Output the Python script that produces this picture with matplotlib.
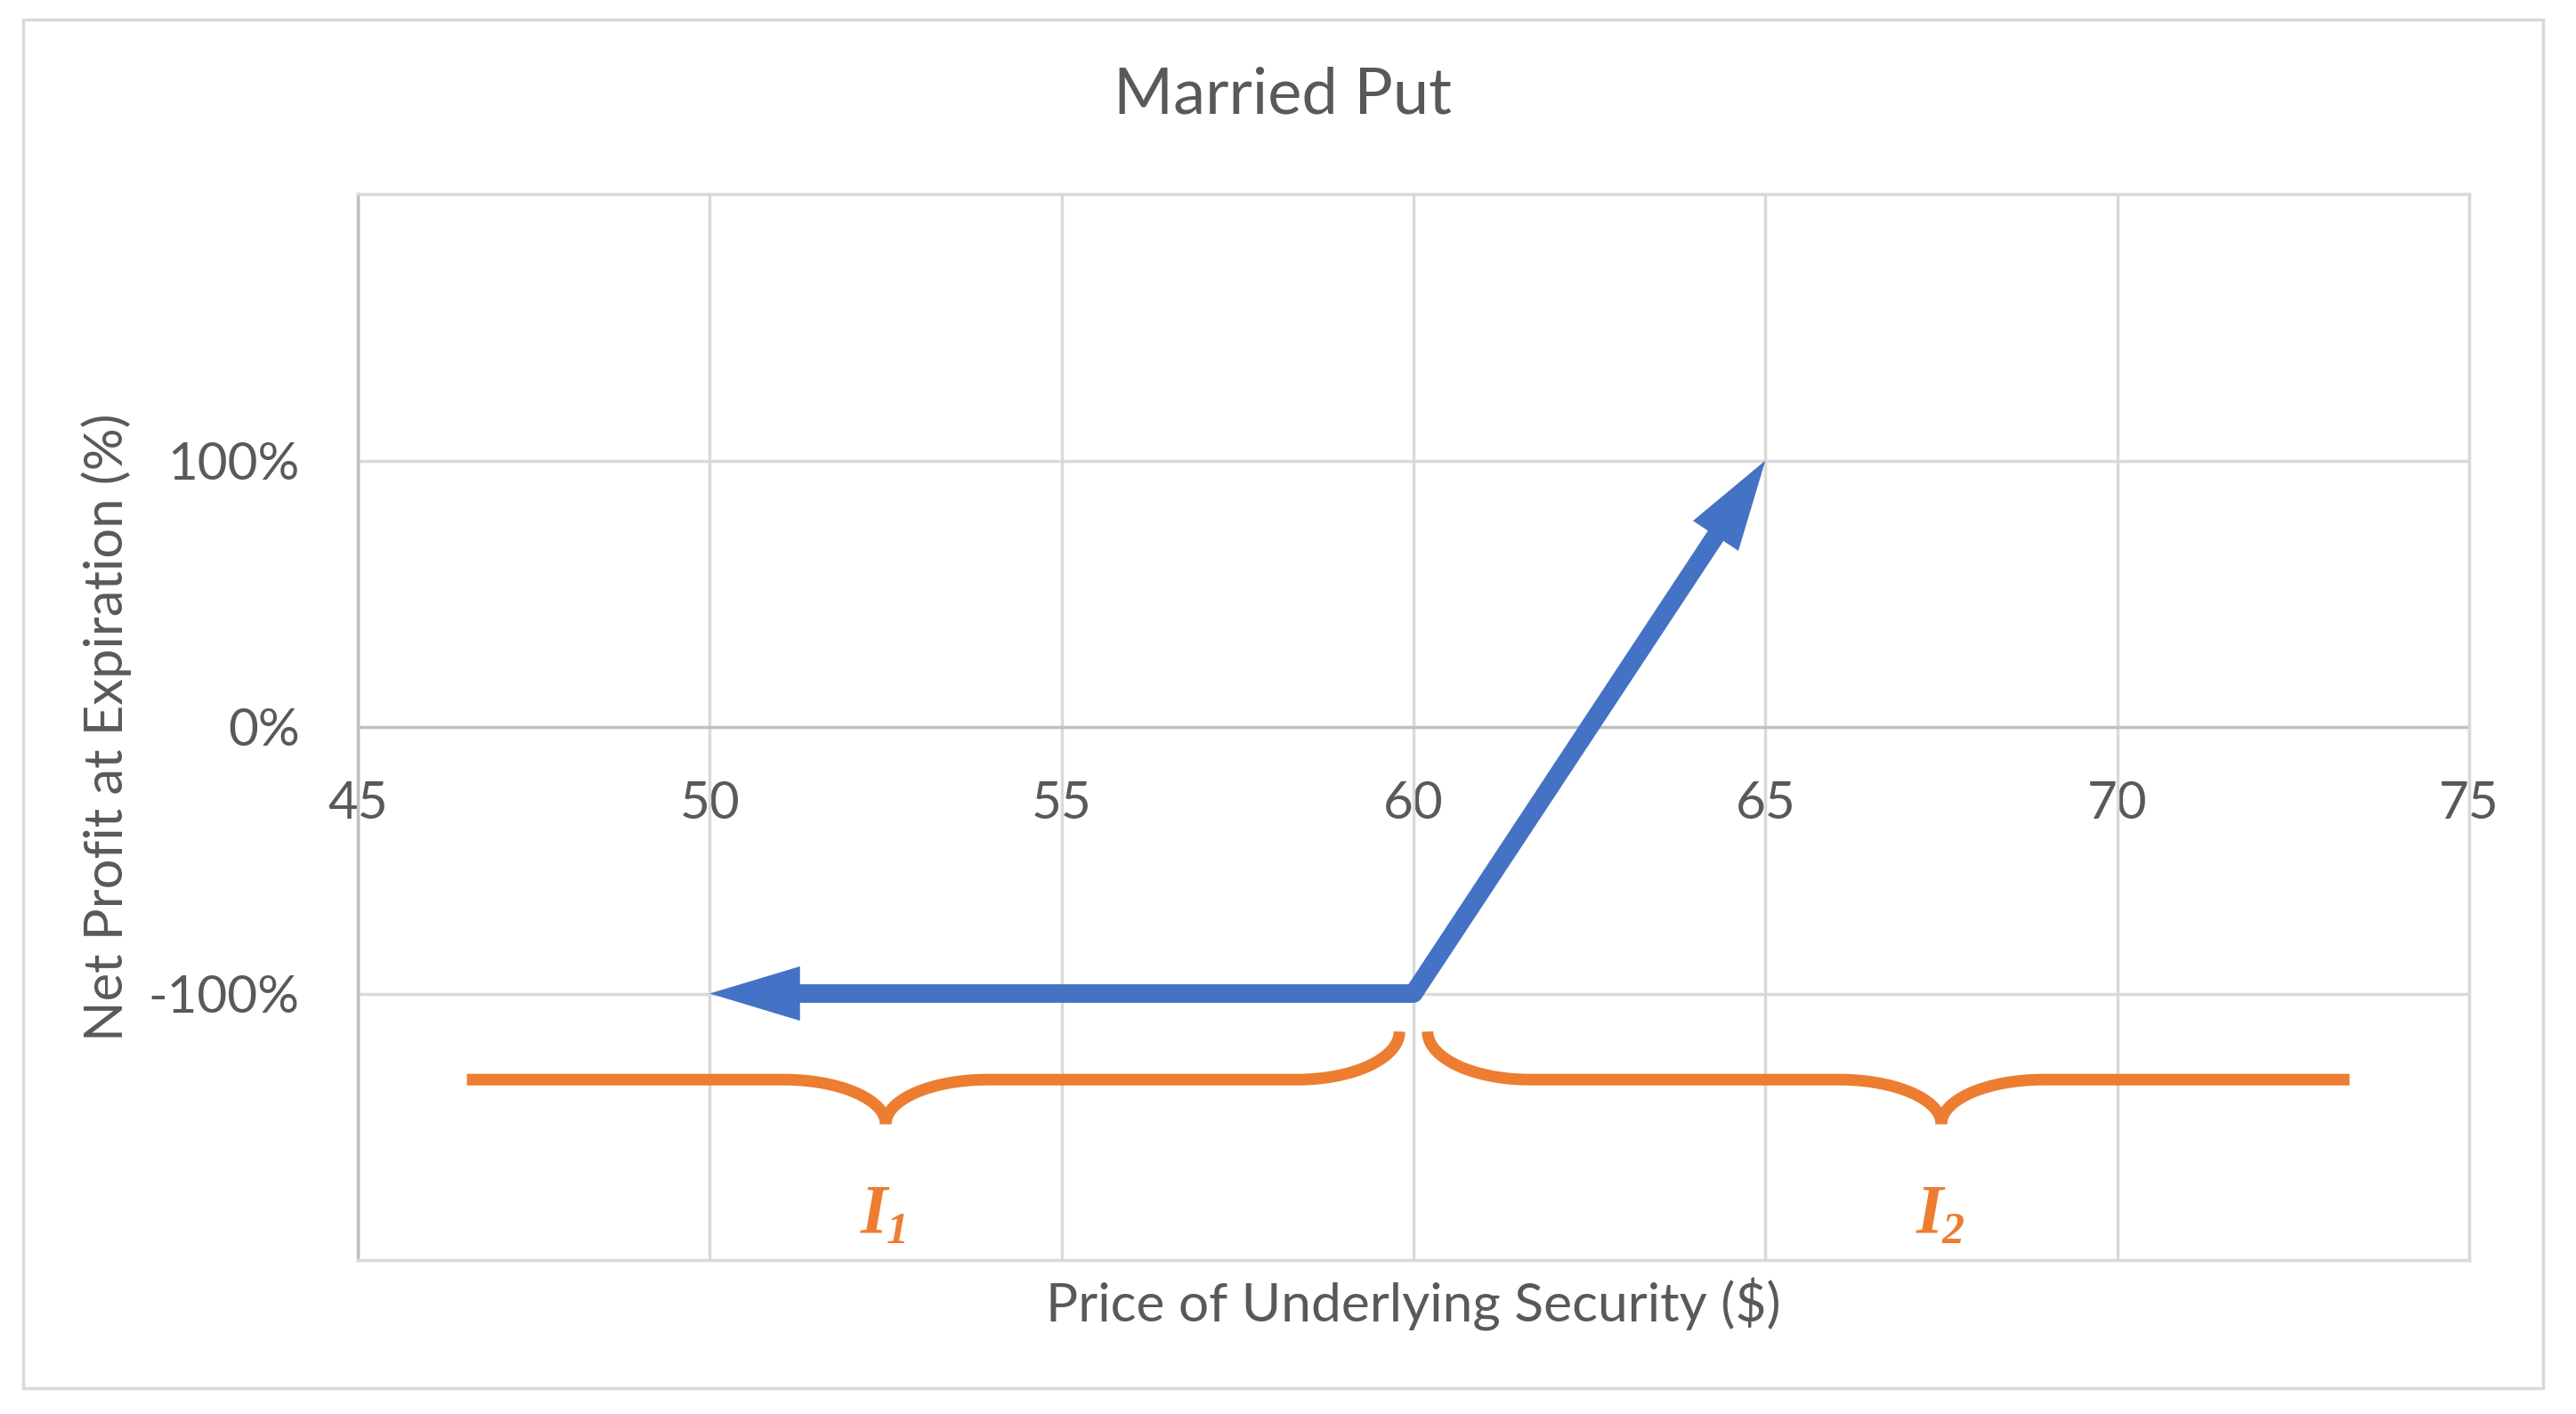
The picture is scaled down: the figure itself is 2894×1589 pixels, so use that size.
import matplotlib
matplotlib.use('Agg')
import matplotlib.pyplot as plt
import numpy as np
from matplotlib.patches import Rectangle

# ---------------- data ----------------
title = "Married Put"
x_label = "Price of Underlying Security ($)"
y_label = "Net Profit at Expiration (%)"
x_ticks = [45, 50, 55, 60, 65, 70, 75]
x_tick_labels = ["45", "50", "55", "60", "65", "70", "75"]
y_ticks = [-1.0, 0.0, 1.0]
y_tick_labels = ["-100%", "0%", "100%"]
x_range = [45, 75]
y_range = [-2.0, 2.0]

price = [50, 60, 65]
profit = [-1.0, -1.0, 1.0]

brace_outer = [46.55, 73.3]
brace_inner = [59.8, 60.2]
brace_tip = [52.5, 67.5]
brace_level = -1.323
brace_label_main = ["I", "I"]
brace_label_sub = ["1", "2"]
brace_label_level = -1.895

# ---------------- style ----------------
BLUE = '#4472C4'
ORANGE = '#ED7D31'
TEXT = '#595959'
GRID = '#D9D9D9'
AXIS = '#BFBFBF'

plt.rcParams['font.family'] = ['Lato', 'DejaVu Sans']

W, H, DPI = 2894, 1589, 100
fig = plt.figure(figsize=(W / DPI, H / DPI), dpi=DPI)
fig.patch.set_facecolor('white')

# outer chart frame
fig.patches.append(Rectangle((26 / W, 1 - 1560 / H), (2857 - 26) / W, (1560 - 22) / H,
                             transform=fig.transFigure, fill=False, ec=GRID, lw=2.5))

L, R, T, B = 402, 2774, 218, 1416
ax = fig.add_axes([L / W, 1 - B / H, (R - L) / W, (B - T) / H])
ax.set_xlim(*x_range)
ax.set_ylim(*y_range)
ax.set_axisbelow(True)

for s in ['top', 'right', 'bottom']:
    ax.spines[s].set_color(GRID)
    ax.spines[s].set_linewidth(2.5)
ax.spines['left'].set_color(AXIS)
ax.spines['left'].set_linewidth(2.5)

ax.set_xticks(x_ticks)
ax.set_xticklabels([])
ax.tick_params(axis='x', length=0)
ax.set_yticks(y_ticks, y_tick_labels)
ax.tick_params(axis='y', length=0, pad=47, labelsize=42, labelcolor=TEXT)
ax.grid(True, color=GRID, lw=2.5)
ax.get_ygridlines()[1].set_color(AXIS)

# x tick labels along y = 0
sec = ax.secondary_xaxis(0.5)
sec.set_alignment('bottom')
for s in sec.spines.values():
    s.set_visible(False)
sec.set_xticks(x_ticks, x_tick_labels)
sec.tick_params(axis='x', length=0, pad=43, labelsize=42, labelcolor=TEXT)

# axis labels and title
ax.set_ylabel(y_label, fontsize=43, color=TEXT, va='center')
ax.yaxis.set_label_coords((120 - L) / (R - L), 0.5)
ax.set_xlabel(x_label, fontsize=43.5, color=TEXT, va='baseline')
ax.xaxis.set_label_coords(0.5, (B - 1485) / (B - T))
fig.text(1441 / W, 1 - 127 / H, title, ha='center', va='baseline', fontsize=52, color=TEXT)

# ---------------- blue payoff line with arrowheads ----------------
head_len_pt, head_w_pt = 73, 22
head_len_px = head_len_pt * DPI / 72
pts = ax.transData.transform(np.column_stack([price, profit]))
short = pts.copy()
d0 = pts[1] - pts[0]
short[0] = pts[0] + d0 / np.linalg.norm(d0) * head_len_px * 0.7
d1 = pts[-1] - pts[-2]
short[-1] = pts[-1] - d1 / np.linalg.norm(d1) * head_len_px * 0.7
short_data = ax.transData.inverted().transform(short)
ax.plot(short_data[:, 0], short_data[:, 1], color=BLUE, lw=15,
        solid_joinstyle='round', solid_capstyle='butt', zorder=3)
style = f'-|>,head_length={head_len_pt},head_width={head_w_pt}'
for tip, prev in [((price[0], profit[0]), (price[1], profit[1])),
                  ((price[-1], profit[-1]), (price[-2], profit[-2]))]:
    ax.annotate('', xy=tip, xytext=prev,
                arrowprops=dict(arrowstyle=style, mutation_scale=1, lw=0,
                                fc=BLUE, ec=BLUE, shrinkA=0, shrinkB=0),
                zorder=4)

# ---------------- orange braces ----------------
sx = ax.transData.transform((1, 0))[0] - ax.transData.transform((0, 0))[0]
sy = ax.transData.transform((0, 0))[1] - ax.transData.transform((0, -1))[1]
rx = 115 / sx
depth = 50 / sy
hrx = 115 / sx
hry = 54 / sy
t = np.linspace(0, np.pi / 2, 40)
serif = dict(family=['Liberation Serif', 'DejaVu Serif'], style='italic', weight='bold', color=ORANGE)
for outer, inner, tip, main, sub in zip(brace_outer, brace_inner, brace_tip,
                                        brace_label_main, brace_label_sub):
    s = 1 if inner > outer else -1
    y0 = brace_level
    ytip = y0 - depth
    # part A: outer end -> cusp
    cx, cy = tip - s * rx, ytip
    ang = np.linspace(np.pi / 2, 0, 40)
    xa = np.concatenate([[outer], cx + s * rx * np.cos(ang)])
    ya = np.concatenate([[y0], cy + depth * np.sin(ang)])
    ax.plot(xa, ya, color=ORANGE, lw=9.4, solid_capstyle='butt', solid_joinstyle='round', zorder=3)
    # part B: cusp -> hook at inner end
    cx, cy = tip + s * rx, ytip
    xb1 = cx - s * rx * np.cos(t)
    yb1 = cy + depth * np.sin(t)
    hcx, hcy = inner - s * hrx, y0 + hry
    ang2 = np.linspace(-np.pi / 2, 0, 40)
    xb2 = hcx + s * hrx * np.cos(ang2)
    yb2 = hcy + hry * np.sin(ang2)
    xb = np.concatenate([xb1, xb2])
    yb = np.concatenate([yb1, yb2])
    ax.plot(xb, yb, color=ORANGE, lw=9.4, solid_capstyle='butt', solid_joinstyle='round', zorder=3)
    # label I with subscript
    ax.annotate(main, xy=(tip, brace_label_level), xytext=(-13, 0), textcoords='offset pixels',
                ha='center', va='baseline', fontsize=56, **serif)
    ax.annotate(sub, xy=(tip, brace_label_level), xytext=(1, -12), textcoords='offset pixels',
                ha='left', va='baseline', fontsize=36, **serif)

fig.savefig('out.png', dpi=DPI, facecolor='white')
